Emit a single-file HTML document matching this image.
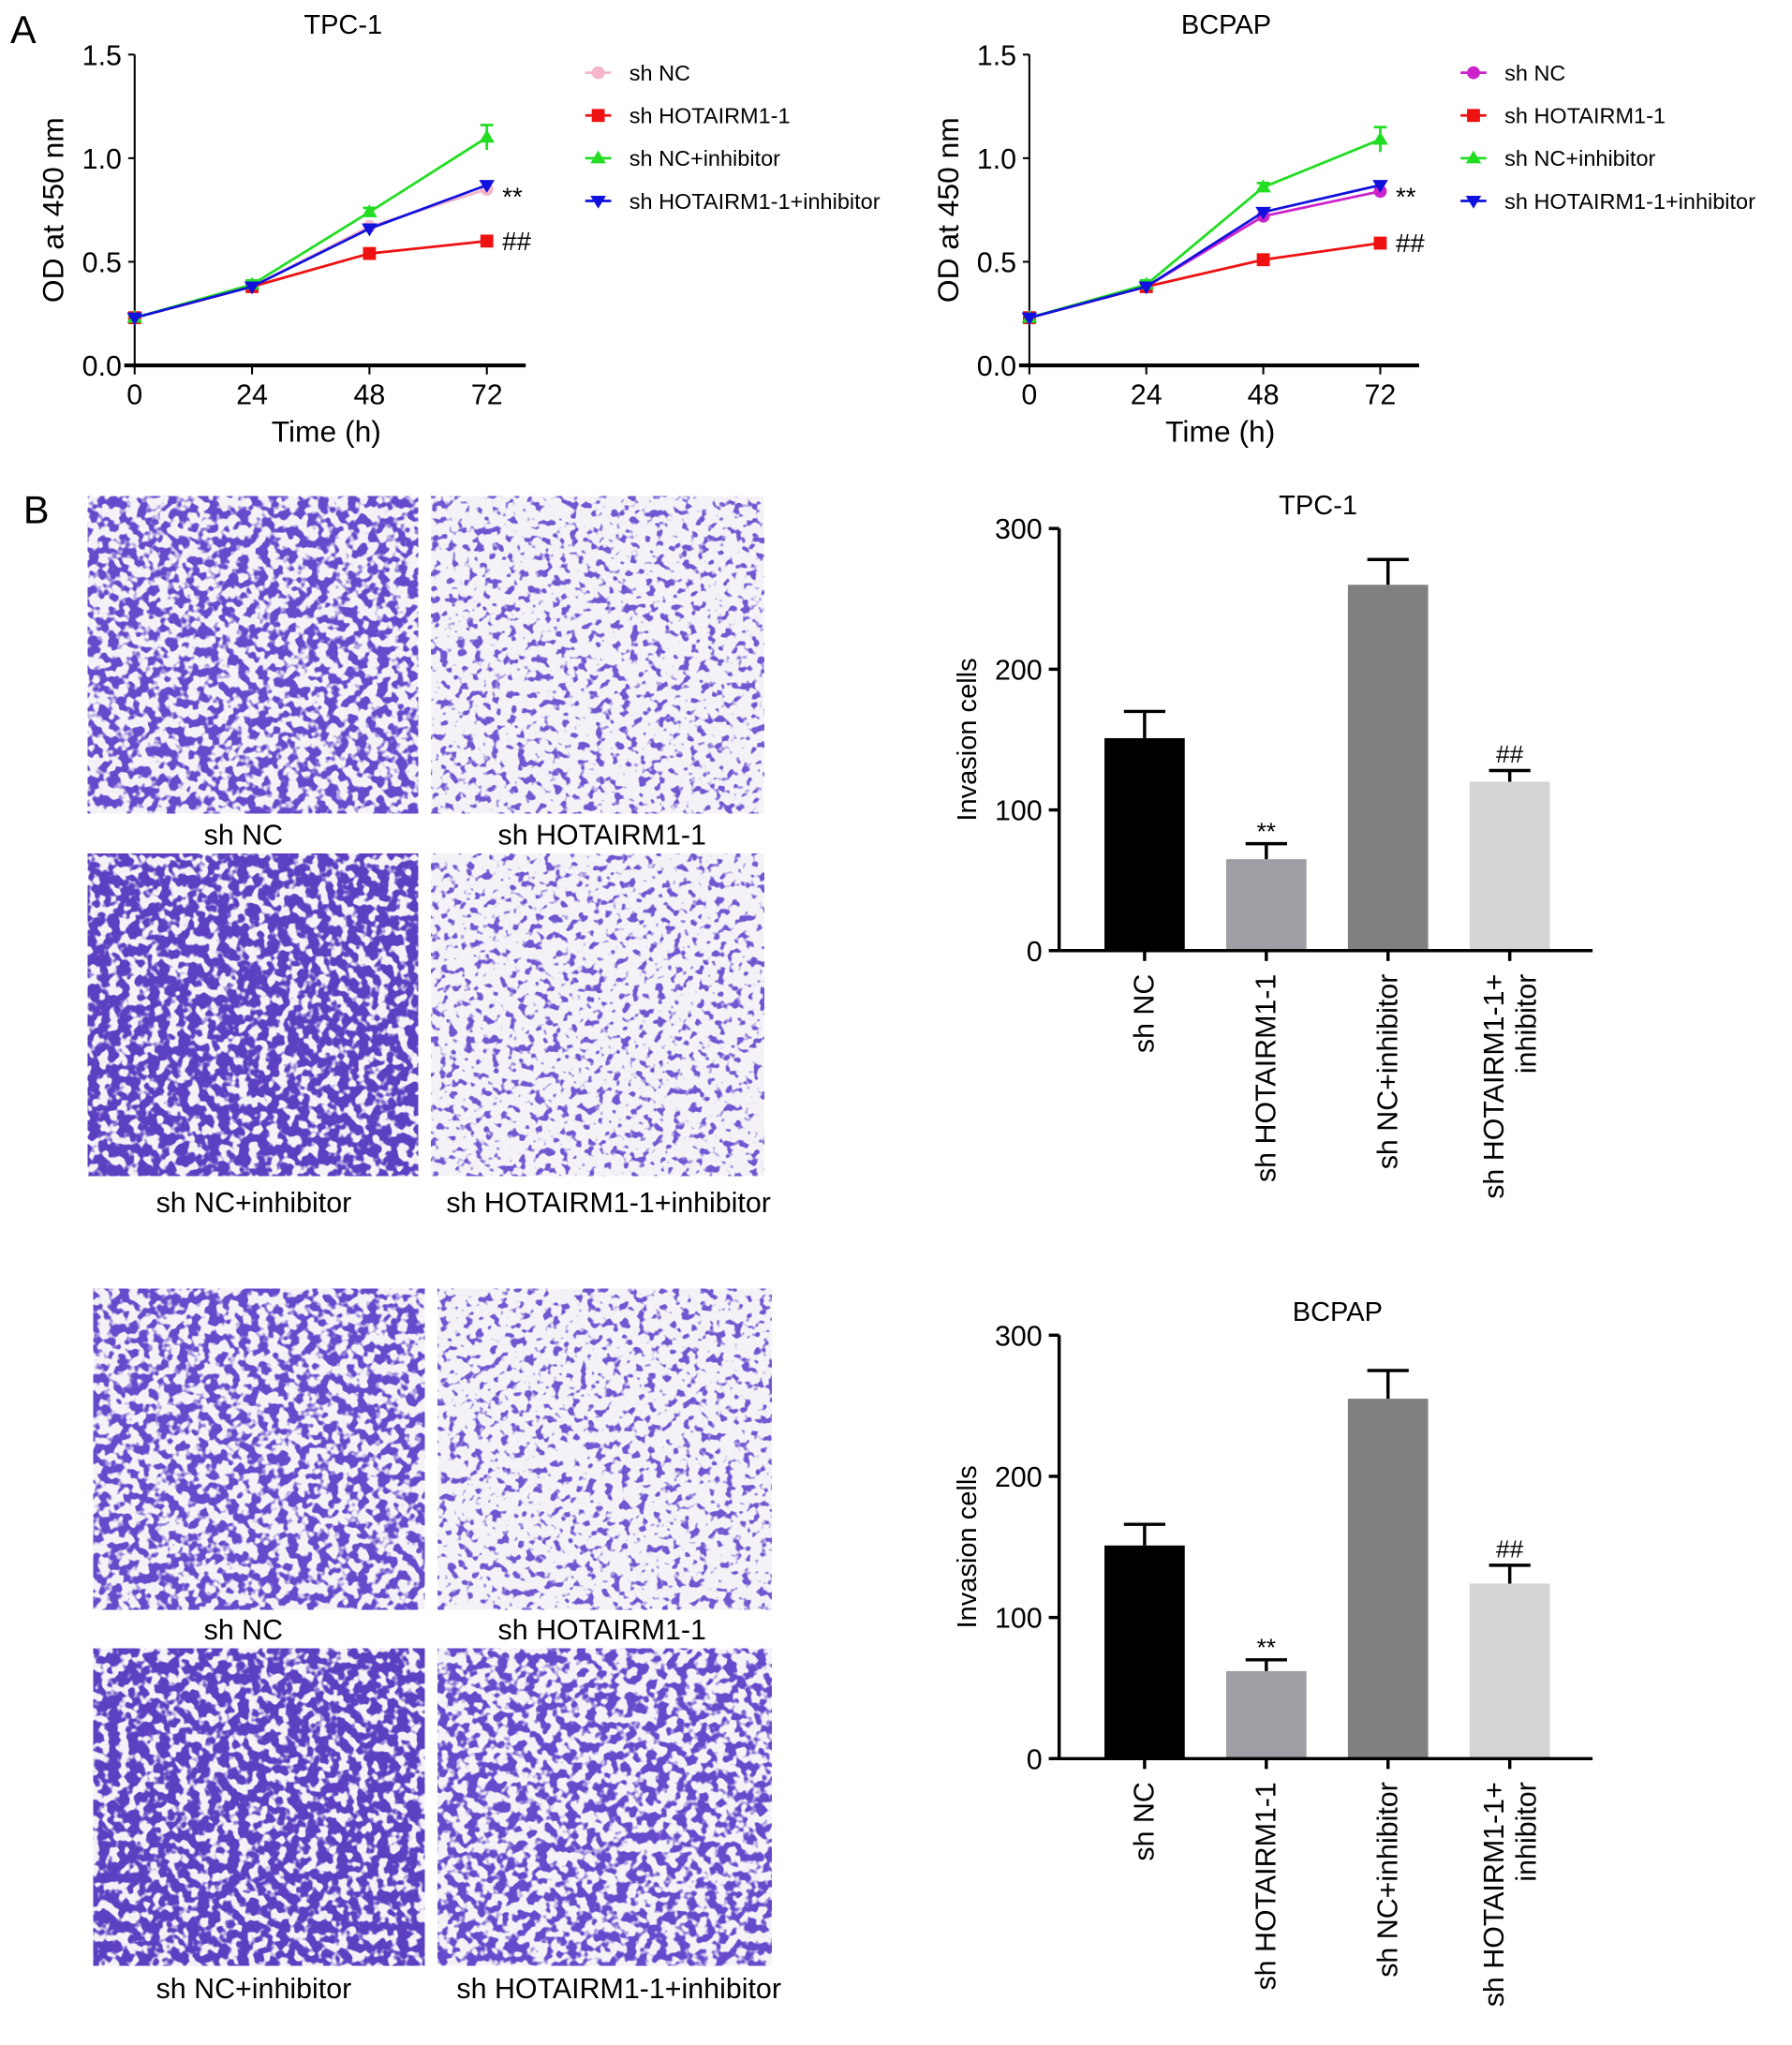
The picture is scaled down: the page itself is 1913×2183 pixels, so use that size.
<!DOCTYPE html>
<html><head><meta charset="utf-8"><style>
html,body{margin:0;padding:0;background:#fff}
svg{display:block;font-family:"Liberation Sans",Arial,sans-serif}
</style></head><body>
<svg id="fig" width="1913" height="2183" viewBox="0 0 1384 1579" xmlns="http://www.w3.org/2000/svg">
<defs>
<filter id="f-dense" x="0" y="0" width="1" height="1" color-interpolation-filters="sRGB"><feTurbulence type="fractalNoise" baseFrequency="0.13" numOctaves="2" seed="3"/><feColorMatrix type="matrix" values="0 0 0 0 0.36 0 0 0 0 0.25 0 0 0 0 0.76 9 0 0 0 -3.6"/></filter>
<filter id="f-mid" x="0" y="0" width="1" height="1" color-interpolation-filters="sRGB"><feTurbulence type="fractalNoise" baseFrequency="0.13" numOctaves="2" seed="7"/><feColorMatrix type="matrix" values="0 0 0 0 0.40 0 0 0 0 0.29 0 0 0 0 0.80 9 0 0 0 -4.1"/></filter>
<filter id="f-sparse" x="0" y="0" width="1" height="1" color-interpolation-filters="sRGB"><feTurbulence type="fractalNoise" baseFrequency="0.15" numOctaves="2" seed="11"/><feColorMatrix type="matrix" values="0 0 0 0 0.44 0 0 0 0 0.34 0 0 0 0 0.82 9 0 0 0 -5.0"/></filter>
</defs>
<g id="root"></g>
</svg>
<script>
// ---- Panel A data ----
var timeCats = [0, 24, 48, 72];
var yTicksA = [0.0, 0.5, 1.0, 1.5];
var seriesNames = ["sh NC", "sh HOTAIRM1-1", "sh NC+inhibitor", "sh HOTAIRM1-1+inhibitor"];
var tpcShNC = [0.23, 0.38, 0.67, 0.85];
var tpcShH = [0.23, 0.38, 0.54, 0.60];
var tpcNCInh = [0.23, 0.39, 0.74, 1.10];
var tpcHInh = [0.23, 0.38, 0.66, 0.87];
var tpcErr = [0.01, 0.02, 0.02, 0.06];
var bcShNC = [0.23, 0.38, 0.72, 0.84];
var bcShH = [0.23, 0.38, 0.51, 0.59];
var bcNCInh = [0.23, 0.39, 0.86, 1.09];
var bcHInh = [0.23, 0.38, 0.74, 0.87];
var bcErr = [0.01, 0.02, 0.02, 0.06];
// ---- Panel B data ----
var barCats = ["sh NC", "sh HOTAIRM1-1", "sh NC+inhibitor", "sh HOTAIRM1-1+inhibitor"];
var yTicksB = [0, 100, 200, 300];
var tpcBars = [151, 65, 260, 120];
var tpcBarErr = [19, 11, 18, 8];
var bcBars = [151, 62, 255, 124];
var bcBarErr = [15, 8, 20, 13];

var NS = "http://www.w3.org/2000/svg";
var root = document.getElementById('root');
function mk(tag, attrs, parent, txt) {
  var e = document.createElementNS(NS, tag);
  for (var k in attrs) e.setAttribute(k, attrs[k]);
  if (txt !== undefined) e.textContent = txt;
  (parent || root).appendChild(e);
  return e;
}

function lineChart(o) {
  var g = mk('g', {});
  
  
  var x = function (v) { return o.x0 + (v - 0) / 72 * (o.x1 - o.x0); };
  var y = function (v) { return o.y0 - v / 1.5 * (o.y0 - o.y1); };
  var t = mk('text', {x: o.tx, y: 26, 'font-size': 21, 'text-anchor': 'middle'}, g, o.title);
  
  
  var ax = mk('g', {}, g);
  
  
  mk('line', {x1: o.x0, y1: y(0), x2: o.x0, y2: y(1.5), stroke: '#000', 'stroke-width': 1.5}, ax);
  yTicksA.forEach(function (v) {
    mk('line', {x1: o.x0 - 5, y1: y(v), x2: o.x0, y2: y(v), stroke: '#000', 'stroke-width': 1.5}, ax);
    var l = mk('text', {x: o.x0 - 10, y: y(v) + 8, 'font-size': 22, 'text-anchor': 'end'}, ax, v.toFixed(1));
    
    
  });
  var xa = mk('g', {}, g);
  
  
  mk('line', {x1: o.x0 - 8, y1: y(0), x2: o.x1 + 30, y2: y(0), stroke: '#000', 'stroke-width': 3}, xa);
  timeCats.forEach(function (v) {
    mk('line', {x1: x(v), y1: y(0), x2: x(v), y2: y(0) + 7, stroke: '#000', 'stroke-width': 1.5}, xa);
    var l = mk('text', {x: x(v), y: y(0) + 30, 'font-size': 22, 'text-anchor': 'middle'}, xa, String(v));
    
    
  });
  var xt = mk('text', {x: (o.x0 + o.x1) / 2 + 12, y: 341, 'font-size': 23, 'text-anchor': 'middle'}, g, 'Time (h)');
  
  
  var yt = mk('text', {x: 0, y: 0, 'font-size': 23, 'text-anchor': 'middle', transform: 'translate(' + (o.x0 - 55) + ',162) rotate(-90)'}, g, 'OD at 450 nm');
  
  
  var markers = ['circle', 'square', 'triUp', 'triDown'];
  o.series.forEach(function (s, i) {
    var sg = mk('g', {}, g);
    
    
    var pts = s.map(function (v, j) { return x(timeCats[j]) + ',' + y(v); }).join(' ');
    mk('polyline', {points: pts, fill: 'none', stroke: o.colors[i], 'stroke-width': 2}, sg);
    s.forEach(function (v, j) {
      var cx = x(timeCats[j]), cy = y(v), e = o.err[j];
      if (i === 2) {
        mk('line', {x1: cx, y1: y(v - e), x2: cx, y2: y(v + e), stroke: o.colors[i], 'stroke-width': 2}, sg);
        mk('line', {x1: cx - 5, y1: y(v + e), x2: cx + 5, y2: y(v + e), stroke: o.colors[i], 'stroke-width': 2}, sg);
      }
      drawMarker(sg, markers[i], cx, cy, o.colors[i]);
    });
  });
  o.series.forEach(function (s, i) {
    var ly = 56 + i * 33;
    var lg = mk('g', {}, g);
    
    
    mk('line', {x1: o.lx - 10, y1: ly, x2: o.lx + 10, y2: ly, stroke: o.colors[i], 'stroke-width': 2}, lg);
    drawMarker(lg, markers[i], o.lx, ly, o.colors[i]);
    mk('text', {x: o.lx + 24, y: ly + 6, 'font-size': 17}, lg, seriesNames[i]);
  });
  var a1 = mk('text', {x: x(72) + 12, y: y(o.series[3][3]) + 16, 'font-size': 20}, g, '**');
  
  
  var a2 = mk('text', {x: x(72) + 12, y: y(o.series[1][3]) + 7, 'font-size': 20}, g, '##');
  
  
}
function drawMarker(g, type, cx, cy, c) {
  if (type === 'circle') mk('circle', {cx: cx, cy: cy, r: 5, fill: c}, g);
  else if (type === 'square') mk('rect', {x: cx - 5, y: cy - 5, width: 10, height: 10, fill: c}, g);
  else if (type === 'triUp') mk('polygon', {points: (cx - 6) + ',' + (cy + 4) + ' ' + (cx + 6) + ',' + (cy + 4) + ' ' + cx + ',' + (cy - 6), fill: c}, g);
  else mk('polygon', {points: (cx - 6) + ',' + (cy - 4) + ' ' + (cx + 6) + ',' + (cy - 4) + ' ' + cx + ',' + (cy + 6), fill: c}, g);
}

lineChart({name: 'tpc1-growth-chart', title: 'TPC-1', tx: 265, x0: 104, x1: 376, y0: 282, y1: 42, lx: 462,
  series: [tpcShNC, tpcShH, tpcNCInh, tpcHInh], err: tpcErr, colors: ['#f4b6c8', '#ee1111', '#22dd22', '#1111dd']});
lineChart({name: 'bcpap-growth-chart', title: 'BCPAP', tx: 947, x0: 795, x1: 1066, y0: 282, y1: 42, lx: 1138,
  series: [bcShNC, bcShH, bcNCInh, bcHInh], err: bcErr, colors: ['#cc22cc', '#ee1111', '#22dd22', '#1111dd']});

var pa = mk('text', {x: 8, y: 33, 'font-size': 30}, root, 'A');


var pb = mk('text', {x: 18, y: 404, 'font-size': 30}, root, 'B');



// micrographs
function micro(name, x, y, w, h, f, label, lx, ly) {
  var g = mk('g', {});
  
  
  mk('rect', {x: x, y: y, width: w, height: h, fill: '#f4f2f6'}, g);
  mk('rect', {x: x, y: y, width: w, height: h, filter: 'url(#' + f + ')'}, g);
  var t = mk('text', {x: lx, y: ly, 'font-size': 22, 'text-anchor': 'middle'}, g, label);
  
  
}
micro('tpc1-sh-nc-image', 68, 383, 255, 245, 'f-mid', 'sh NC', 188, 652);
micro('tpc1-sh-hotairm1-image', 333, 383, 257, 245, 'f-sparse', 'sh HOTAIRM1-1', 465, 652);
micro('tpc1-nc-inhibitor-image', 68, 659, 255, 249, 'f-dense', 'sh NC+inhibitor', 196, 936);
micro('tpc1-hotairm1-inhibitor-image', 333, 659, 257, 249, 'f-sparse', 'sh HOTAIRM1-1+inhibitor', 470, 936);
micro('bcpap-sh-nc-image', 72, 995, 256, 248, 'f-mid', 'sh NC', 188, 1266);
micro('bcpap-sh-hotairm1-image', 338, 995, 258, 248, 'f-sparse', 'sh HOTAIRM1-1', 465, 1266);
micro('bcpap-nc-inhibitor-image', 72, 1273, 256, 245, 'f-dense', 'sh NC+inhibitor', 196, 1543);
micro('bcpap-hotairm1-inhibitor-image', 338, 1273, 258, 245, 'f-mid', 'sh HOTAIRM1-1+inhibitor', 478, 1543);

function barChart(o) {
  var g = mk('g', {});
  
  
  var y = function (v) { return o.y0 - v / 300 * (o.y0 - o.y1); };
  var cx = function (i) { return 884 + i * 94; };
  var t = mk('text', {x: o.tx, y: o.y1 - 11, 'font-size': 21, 'text-anchor': 'middle'}, g, o.title);
  
  
  var yt = mk('text', {x: 0, y: 0, 'font-size': 21, 'text-anchor': 'middle', transform: 'translate(754,' + ((o.y0 + o.y1) / 2) + ') rotate(-90)'}, g, 'Invasion cells');
  
  
  o.vals.forEach(function (v, i) {
    var b = mk('rect', {x: cx(i) - 31, y: y(v), width: 62, height: y(0) - y(v), fill: o.colors[i]}, g);
    
    
    var e = o.err[i];
    mk('line', {x1: cx(i), y1: y(v), x2: cx(i), y2: y(v + e), stroke: '#000', 'stroke-width': 2.5}, g);
    mk('line', {x1: cx(i) - 16, y1: y(v + e), x2: cx(i) + 16, y2: y(v + e), stroke: '#000', 'stroke-width': 2.5}, g);
  });
  var s1 = mk('text', {x: cx(1), y: y(o.vals[1] + o.err[1]) - 3, 'font-size': 19, 'text-anchor': 'middle'}, g, '**');
  
  
  var s2 = mk('text', {x: cx(3), y: y(o.vals[3] + o.err[3]) - 6, 'font-size': 19, 'text-anchor': 'middle'}, g, '##');
  
  
  mk('line', {x1: 818, y1: y(0), x2: 818, y2: y(300), stroke: '#000', 'stroke-width': 2.5}, g);
  mk('line', {x1: 812, y1: y(0), x2: 1230, y2: y(0), stroke: '#000', 'stroke-width': 2.5}, g);
  yTicksB.forEach(function (v) {
    mk('line', {x1: 810, y1: y(v), x2: 818, y2: y(v), stroke: '#000', 'stroke-width': 2.5}, g);
    var l = mk('text', {x: 805, y: y(v) + 8, 'font-size': 22, 'text-anchor': 'end'}, g, String(v));
    
    
  });
  barCats.forEach(function (c, i) {
    mk('line', {x1: cx(i), y1: y(0), x2: cx(i), y2: y(0) + 8, stroke: '#000', 'stroke-width': 2.5}, g);
    var lines = (i === 3) ? ['sh HOTAIRM1-1+', 'inhibitor'] : [c];
    lines.forEach(function (ln, k) {
      var off = (lines.length === 2) ? (k === 0 ? -5 : 20) : 7;
      var l = mk('text', {x: 0, y: 0, 'font-size': 22, 'text-anchor': 'end', transform: 'translate(' + (cx(i) + off) + ',' + (y(0) + 18) + ') rotate(-90)'}, g, ln);
      
      
    });
  });
}
var barColors = ['#000000', '#9e9ea4', '#808080', '#d4d4d4'];
barChart({name: 'tpc1-invasion-chart', title: 'TPC-1', tx: 1018, y0: 734, y1: 408, vals: tpcBars, err: tpcBarErr, colors: barColors});
barChart({name: 'bcpap-invasion-chart', title: 'BCPAP', tx: 1033, y0: 1358, y1: 1031, vals: bcBars, err: bcBarErr, colors: barColors});
</script>
</body></html>
